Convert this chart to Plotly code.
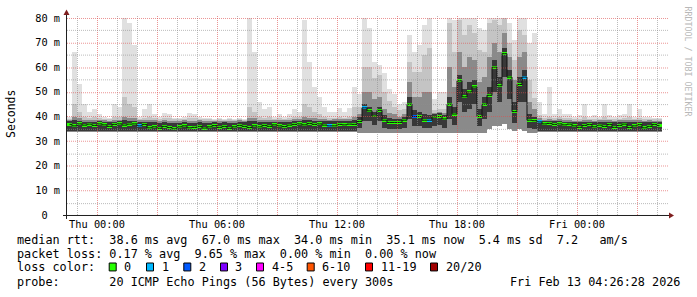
import plotly.graph_objects as go
import pandas as pd

# ---------------- data (15-minute bins, start Wed 22:30) ----------------
START = "2026-02-11 22:30"
STEP = "15min"

median_ms = [
    36.8, 36.2, 37.0, 36.5, 36.9, 36.4, 37.0, 36.6, 36.0, 36.8, 37.0, 36.5, 36.9, 37.0, 36.2, 36.8,
    35.4, 35.8, 35.2, 36.0, 35.5, 35.0, 35.8, 36.2, 35.4, 35.6, 36.0, 35.3, 35.8, 36.3, 35.6, 36.0, 35.2, 35.8, 36.4, 36.0, 35.5,
    36.2, 35.8, 36.4, 36.0, 36.6, 36.2, 35.9, 36.5, 36.8, 37.0, 36.6, 37.2, 36.8, 37.0, 36.5, 36.2,
    36.2, 36.8, 36.6, 36.9, 36.8, 38.0, 43.5, 42.3, 40.2, 42.5, 38.5, 37.6, 37.6, 37.6, 38.5, 45.0, 40.0, 40.0, 38.5, 38.5,
    39.8, 40.0, 39.0, 45.0, 41.0, 54.5, 48.0, 50.0, 52.0, 40.0, 45.0, 48.6, 60.0, 52.5, 65.5, 56.0, 42.0, 53.0, 56.0, 38.5, 38.3,
    37.8, 37.0, 37.2, 36.8, 37.0, 36.6, 36.9, 36.2, 35.6, 36.4, 36.8, 35.8, 36.5, 36.0, 36.8, 35.6, 36.4, 36.9, 35.5, 36.2, 36.7, 35.4, 36.0, 36.8, 36.3,
]

loss_count = [0] * 119
for _i, _v in [(14, 1), (52, 1), (59, 1), (69, 2), (72, 1), (91, 1), (94, 1)]:
    loss_count[_i] = _v

min_ms = (
    [33.6] * 58
    + [33.5] * 26
    + [35.0, 36.0, 36.0, 37.0, 35.0, 34.0, 35.0, 34.0, 33.5, 33.5]
    + [33.6] * 25
)

core_lo_ms = (
    [34.0] * 58
    + [35.5, 38.0, 38.0, 36.5, 38.0, 35.5, 35.0, 35.0, 35.0, 35.5, 39.0, 36.0, 36.0, 35.5, 35.5,
       36.0, 36.5, 35.5, 39.0, 36.5, 46.0, 42.0, 43.0, 45.0, 36.0, 39.0, 42.0, 50.0, 46.0, 56.0, 47.0, 37.5, 46.0, 46.0, 35.5, 35.0]
    + [34.0] * 25
)

core_ms = [
    38.0, 38.5, 38.2, 37.8, 37.8, 37.8, 38.0, 37.8, 37.6, 37.8, 38.0, 38.5, 38.2, 38.2, 37.8, 37.8,
    37.8, 37.6, 37.5, 37.6, 37.5, 37.4, 37.5, 37.8, 37.5, 37.5, 37.6, 37.5, 37.5, 37.6, 37.5, 37.6, 37.4, 37.5, 37.8, 37.6, 38.0,
    38.0, 37.8, 37.8, 37.8, 37.8, 37.8, 37.6, 37.8, 38.0, 38.0, 38.5, 38.5, 38.2, 38.2, 38.0, 38.0,
    38.0, 38.2, 38.0, 38.2, 38.5, 39.6, 45.0, 44.0, 42.0, 44.0, 40.5, 39.5, 39.0, 38.8, 39.6, 48.0, 42.5, 42.0, 41.0, 40.5,
    41.0, 41.5, 40.5, 48.0, 44.0, 57.0, 51.0, 54.0, 55.0, 43.0, 48.0, 52.0, 63.0, 56.0, 68.0, 59.0, 46.0, 56.0, 59.0, 41.0, 40.0,
    38.5, 38.0, 38.0, 38.0, 38.0, 37.8, 37.8, 37.6, 37.6, 37.8, 37.8, 37.6, 37.8, 37.8, 37.8, 37.6, 37.8, 37.8, 37.6, 37.8, 37.8, 37.6, 37.8, 37.8, 37.8,
]

mid_ms = [
    38.6, 40.0, 39.5, 38.6, 38.5, 38.6, 38.6, 38.4, 38.3, 38.6, 38.6, 40.0, 39.5, 39.5, 38.5, 38.5,
    38.5, 38.4, 38.3, 38.4, 38.3, 38.2, 38.3, 38.5, 38.3, 38.3, 38.4, 38.3, 38.3, 38.2, 38.3, 38.2, 38.2, 38.2, 38.5, 38.3, 39.5,
    39.2, 38.6, 38.6, 38.6, 38.5, 38.6, 38.4, 38.6, 38.8, 38.8, 40.0, 39.5, 39.2, 39.0, 38.8, 38.6,
    38.8, 39.0, 38.8, 39.0, 40.0, 41.0, 50.0, 50.0, 47.0, 48.0, 43.0, 41.5, 41.0, 40.0, 41.0, 54.0, 48.0, 48.0, 50.0, 50.0,
    41.5, 42.0, 41.5, 60.0, 52.0, 66.0, 60.0, 64.0, 63.0, 54.0, 56.0, 64.0, 70.0, 66.0, 74.0, 64.0, 55.0, 64.0, 66.0, 46.0, 43.0,
    39.2, 38.6, 38.8, 38.6, 38.8, 38.5, 38.5, 38.3, 38.3, 38.6, 38.4, 38.3, 38.4, 38.6, 38.4, 38.3, 38.4, 38.5, 38.6, 38.4, 38.5, 38.3, 38.4, 38.3, 38.3,
]

upper_ms = [
    39.0, 45.0, 42.0, 40.0, 39.5, 40.0, 39.5, 39.0, 39.0, 40.0, 40.0, 48.0, 45.0, 44.0, 39.0, 39.5,
    40.0, 39.5, 39.0, 39.5, 39.5, 39.0, 39.0, 39.0, 39.5, 39.5, 39.0, 39.0, 39.0, 38.5, 39.0, 38.5, 39.0, 38.5, 39.0, 38.5, 44.0,
    42.0, 40.0, 39.5, 40.0, 39.0, 39.5, 39.0, 39.5, 40.0, 40.0, 45.0, 44.0, 42.0, 41.0, 40.0, 39.5,
    39.5, 40.0, 39.5, 40.0, 44.0, 44.0, 60.0, 60.0, 55.6, 57.0, 50.0, 46.2, 44.0, 42.5, 43.0, 62.0, 58.0, 58.0, 65.0, 68.0,
    42.5, 43.0, 43.0, 78.0, 66.0, 79.0, 73.0, 77.0, 74.0, 67.0, 66.0, 78.0, 79.0, 77.0, 80.0, 70.0, 63.0, 75.0, 73.0, 55.0, 47.5,
    40.5, 39.5, 40.0, 39.5, 40.0, 39.5, 39.5, 39.0, 39.0, 40.0, 39.0, 39.0, 39.0, 40.0, 39.0, 39.0, 39.0, 39.5, 40.0, 39.0, 39.5, 39.0, 39.0, 39.0, 39.0,
]

max_ms = [
    40.0, 66.0, 53.0, 45.0, 42.0, 43.0, 41.0, 40.0, 39.5, 45.0, 44.0, 80.0, 78.0, 69.0, 40.0, 43.0,
    45.0, 41.0, 40.0, 41.5, 41.0, 39.5, 39.5, 40.0, 41.5, 41.0, 40.0, 39.5, 39.5, 39.0, 39.5, 39.0, 39.5, 39.0, 39.5, 39.0, 80.0,
    66.0, 46.0, 43.0, 44.0, 40.0, 41.0, 40.0, 41.0, 43.0, 42.0, 79.0, 62.0, 52.0, 48.0, 44.0, 42.0,
    42.0, 43.5, 42.0, 43.5, 52.0, 49.0, 80.0, 76.0, 62.0, 61.0, 57.5, 51.0, 49.0, 45.0, 46.0, 73.0, 66.0, 69.0, 77.0, 80.0,
    47.0, 50.0, 50.0, 80.0, 79.0, 80.0, 80.0, 80.0, 80.0, 76.0, 75.0, 80.0, 80.0, 80.0, 80.0, 78.0, 71.0, 80.0, 80.0, 70.0, 74.0,
    46.0, 41.0, 52.0, 41.0, 43.0, 41.0, 41.0, 40.0, 40.5, 45.0, 40.0, 40.5, 40.0, 45.0, 40.5, 40.0, 40.5, 41.0, 45.0, 40.0, 43.0, 40.0, 40.0, 39.5, 39.5,
]

loss_labels = ["0", "1", "2", "3", "4-5", "6-10", "11-19", "20/20"]
loss_colors = ["#26ff00", "#00b8ff", "#0059ff", "#7e00ff", "#ff00ff", "#ff5500", "#ff0000", "#a00000"]

y_ticks = [0, 10, 20, 30, 40, 50, 60, 70, 80]
y_tick_text = ["0\u00a0\u00a0", "10 m", "20 m", "30 m", "40 m", "50 m", "60 m", "70 m", "80 m"]
x_tick_times = ["2026-02-12 00:00", "2026-02-12 06:00", "2026-02-12 12:00", "2026-02-12 18:00", "2026-02-13 00:00"]
x_tick_text = ["Thu 00:00", "Thu 06:00", "Thu 12:00", "Thu 18:00", "Fri 00:00"]

stats_lines = [
    "median rtt:  38.6 ms avg  67.0 ms max  34.0 ms min  35.1 ms now  5.4 ms sd  7.2   am/s",
    "packet loss: 0.17 % avg  9.65 % max  0.00 % min  0.00 % now",
]
probe_line = "probe:       20 ICMP Echo Pings (56 Bytes) every 300s"
stamp = "Fri Feb 13 04:26:28 2026"

# ---------------- figure ----------------
W, H = 697, 297
PL, PR, PT, PB = 67, 668, 16, 215          # plot area in pixels
BIN_MS = 15 * 60 * 1000
MONO = "DejaVu Sans Mono"

def xp(px):
    return (px - PL) / (PR - PL)

def yp(py):
    return (PB - py) / (PB - PT)

times = pd.date_range(START, periods=len(median_ms), freq=STEP) + pd.Timedelta(minutes=7.5)
t_start = pd.Timestamp(START)
t_end = t_start + pd.Timedelta(hours=(PR - PL) / 20.0)

fig = go.Figure()

def band(bottom, top, color):
    fig.add_trace(go.Bar(
        x=times, base=bottom, y=[t - b for t, b in zip(top, bottom)],
        width=BIN_MS, marker=dict(color=color, line=dict(width=0)),
        hoverinfo="skip",
    ))

band(min_ms, max_ms, "#e0e0e0")
band(min_ms, upper_ms, "#c4c4c4")
band(min_ms, mid_ms, "#8a8a8a")
band(core_lo_ms, core_ms, "#383838")

fig.add_trace(go.Scatter(
    x=times, y=median_ms, mode="lines", line=dict(color="#101010", width=1, shape="hvh"),
    hoverinfo="skip",
))
fig.add_trace(go.Bar(
    x=times, base=[m - 0.6 for m in median_ms], y=[1.2] * len(median_ms),
    width=BIN_MS, marker=dict(color=[loss_colors[c] for c in loss_count], line=dict(width=0)),
    hoverinfo="skip",
))

shapes = []
# vertical grid (above traces)
h = -1
while True:
    t = pd.Timestamp("2026-02-12 00:00") + pd.Timedelta(hours=h)
    if t > t_end:
        break
    px = PL + (t - t_start).total_seconds() / 3600 * 20 + 0.5
    major = (h % 3 == 0)
    shapes.append(dict(
        type="line", xref="paper", yref="paper", x0=xp(px), x1=xp(px), y0=yp(PB), y1=yp(13),
        line=dict(color="rgba(222,79,79,0.6)" if major else "rgba(143,143,143,0.6)", width=1, dash="1px,1px"),
        layer="above",
    ))
    h += 1
# horizontal grid
for v in range(5, 85, 5):
    row = PB - round(v * (PB - PT) / 80.0) + 0.5
    major = (v % 10 == 0)
    shapes.append(dict(
        type="line", xref="paper", yref="paper", x0=xp(PL), x1=xp(PR), y0=yp(row), y1=yp(row),
        line=dict(color="rgba(222,79,79,0.6)" if major else "rgba(143,143,143,0.6)", width=1, dash="1px,1px"),
        layer="above",
    ))
# axes
AXIS = "#1f1f1f"
ARROW = "#7f1f1f"
shapes.append(dict(type="line", xref="paper", yref="paper", x0=xp(63), x1=xp(669), y0=yp(215.5), y1=yp(215.5),
                   line=dict(color=AXIS, width=1), layer="above"))
shapes.append(dict(type="line", xref="paper", yref="paper", x0=xp(66.5), x1=xp(66.5), y0=yp(219), y1=yp(12),
                   line=dict(color=AXIS, width=1), layer="above"))
shapes.append(dict(type="path", xref="paper", yref="paper",
                   path=f"M {xp(669)},{yp(212.5)} L {xp(674)},{yp(215.5)} L {xp(669)},{yp(218.5)} Z",
                   fillcolor=ARROW, line=dict(color=ARROW, width=0), layer="above"))
shapes.append(dict(type="path", xref="paper", yref="paper",
                   path=f"M {xp(63.5)},{yp(13)} L {xp(66.5)},{yp(7.5)} L {xp(69.5)},{yp(13)} Z",
                   fillcolor=ARROW, line=dict(color=ARROW, width=0), layer="above"))

# legend boxes
box_left = [108.7, 146.0, 183.3, 220.0, 256.0, 306.7, 365.0, 430.0]
annotations = []
for bx, col, lab in zip(box_left, loss_colors, loss_labels):
    shapes.append(dict(type="rect", xref="paper", yref="paper",
                       x0=xp(bx + 0.5), x1=xp(bx + 7.5), y0=yp(271.5), y1=yp(263.5),
                       fillcolor=col, line=dict(color="#000000", width=1)))
    annotations.append(dict(x=xp(bx + 13.5), y=yp(268), xref="paper", yref="paper", text=lab,
                            showarrow=False, xanchor="left", yanchor="middle",
                            font=dict(family=MONO, size=11.8, color="#000")))

def nb(s):
    return s.replace(" ", "\u00a0")

for txt, yy in [(stats_lines[0], 240.5), (stats_lines[1], 254.5), ("loss color:", 268), (probe_line, 282.5)]:
    annotations.append(dict(x=xp(15), y=yp(yy), xref="paper", yref="paper", text=nb(txt),
                            showarrow=False, xanchor="left", yanchor="middle",
                            font=dict(family=MONO, size=11.8, color="#000")))
annotations.append(dict(x=xp(682), y=yp(282.5), xref="paper", yref="paper", text=nb(stamp),
                        showarrow=False, xanchor="right", yanchor="middle",
                        font=dict(family=MONO, size=11.8, color="#000")))
annotations.append(dict(x=xp(11), y=yp(113), xref="paper", yref="paper", text="Seconds",
                        showarrow=False, textangle=-90, xanchor="center", yanchor="middle",
                        font=dict(family=MONO, size=11.5, color="#000")))
annotations.append(dict(x=xp(688), y=yp(60), xref="paper", yref="paper", text=nb("RRDTOOL / TOBI OETIKER"),
                        showarrow=False, textangle=90, xanchor="center", yanchor="middle",
                        font=dict(family=MONO, size=8.3, color="#b8b8b8")))

fig.update_layout(
    width=W, height=H,
    margin=dict(l=PL, r=W - PR, t=PT, b=H - PB, pad=0),
    paper_bgcolor="#ffffff", plot_bgcolor="#ffffff",
    showlegend=False, barmode="overlay", bargap=0,
    shapes=shapes, annotations=annotations,
    xaxis=dict(type="date", range=[t_start, t_end], tickvals=x_tick_times, ticktext=x_tick_text,
               showgrid=False, zeroline=False, showline=False, ticks="",
               tickfont=dict(family=MONO, size=10.3, color="#000"), ticklabelstandoff=2,
               fixedrange=True),
    yaxis=dict(range=[0, 80], tickvals=y_ticks, ticktext=y_tick_text,
               showgrid=False, zeroline=False, showline=False, ticks="",
               tickfont=dict(family=MONO, size=10.3, color="#000"), ticklabelstandoff=6,
               fixedrange=True),
)

fig.write_html("out.html")
